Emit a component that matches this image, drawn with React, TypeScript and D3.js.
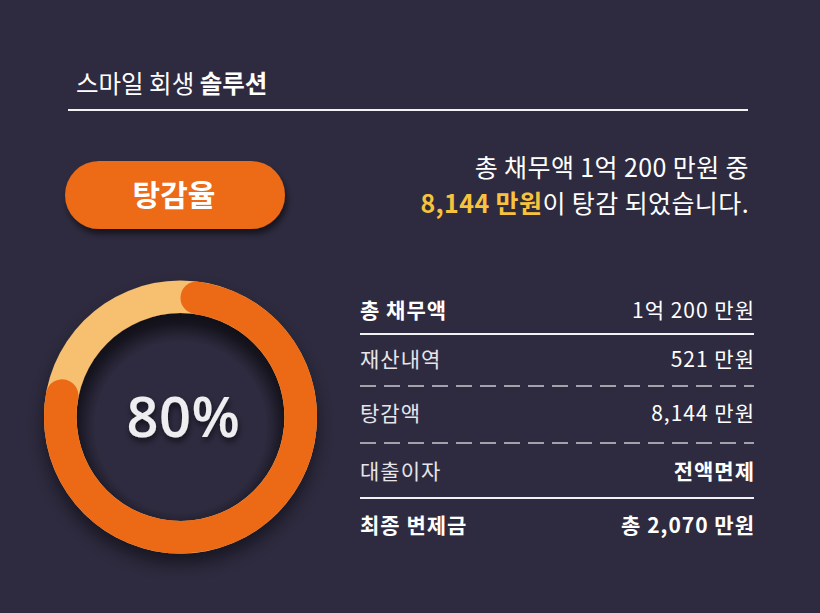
import React from "react";
import * as d3 from "d3";

const W = 820;
const H = 613;

const titleLight = "스마일 회생 ";
const titleBold = "솔루션";
const badgeLabel = "탕감율";
const summaryLine1 = "총 채무액 1억 200 만원 중";
const summaryHighlight = "8,144 만원";
const summaryRest = "이 탕감 되었습니다.";

const reductionRate = [80];
const rowLabels = ["총 채무액", "재산내역", "탕감액", "대출이자", "최종 변제금"];
const rowValues = ["1억 200 만원", "521 만원", "8,144 만원", "전액면제", "총 2,070 만원"];
const rowBold = [true, false, false, false, true];
const valueBold = [false, false, false, true, true];
const separators = ["solid", "dashed", "dashed", "solid"];

const FONT = "'Noto Sans CJK KR', 'Noto Sans', sans-serif";

export default function App() {
  const cx = 180.5;
  const cy = 417;
  const outerR = 136.5;
  const innerR = 104;
  const pct = reductionRate[0];
  const angle = d3.scaleLinear().domain([0, 100]).range([0, 2 * Math.PI]);
  const bgArc = d3.arc<any>().innerRadius(innerR).outerRadius(outerR).startAngle(0).endAngle(2 * Math.PI)({} as any) as string;
  const fgArc = d3
    .arc<any>()
    .innerRadius(innerR)
    .outerRadius(outerR)
    .cornerRadius(16)
    .startAngle(angle(0))
    .endAngle(angle(pct))({} as any) as string;

  const rowBaselines = [318, 367, 421, 479, 533];
  const sepY = [334, 386, 443, 498];
  const tableL = 360;
  const tableR = 754;

  return (
    <svg width={W} height={H} style={{ position: "absolute", left: 0, top: 0, display: "block" }}>
      <defs>
        <filter id="pillShadow" x="-20%" y="-30%" width="140%" height="180%">
          <feDropShadow dx="2" dy="5" stdDeviation="3" floodColor="#000" floodOpacity="0.55" />
        </filter>
        <filter id="ringShadow" x="-30%" y="-30%" width="160%" height="170%">
          <feDropShadow dx="0" dy="10" stdDeviation="9" floodColor="#000" floodOpacity="0.5" />
        </filter>
        <filter id="textShadow" x="-20%" y="-30%" width="140%" height="170%">
          <feDropShadow dx="1" dy="4" stdDeviation="3" floodColor="#000" floodOpacity="0.6" />
        </filter>
        <radialGradient id="innerShade" cx="50%" cy="55%" r="50%">
          <stop offset="82%" stopColor="#000" stopOpacity="0" />
          <stop offset="100%" stopColor="#000" stopOpacity="0.35" />
        </radialGradient>
      </defs>
      <rect x={0} y={0} width={W} height={H} fill="#2e2b40" />

      <text x={76} y={93} fontFamily={FONT} fontSize={24.5} fill="#ffffff">
        <tspan fontWeight={400}>{titleLight}</tspan>
        <tspan fontWeight={700}>{titleBold}</tspan>
      </text>
      <line x1={68} x2={748} y1={110} y2={110} stroke="#f2f2f2" strokeWidth={2} />

      <rect x={65} y={161} width={220} height={68} rx={34} fill="#ed6a14" filter="url(#pillShadow)" />
      <text x={174} y={206} textAnchor="middle" fontFamily={FONT} fontSize={30} fontWeight={700} fill="#ffffff">
        {badgeLabel}
      </text>

      <text x={749} y={177} textAnchor="end" fontFamily={FONT} fontSize={25} letterSpacing={0.4} fill="#ffffff">
        {summaryLine1}
      </text>
      <text x={749} y={213} textAnchor="end" fontFamily={FONT} fontSize={25} letterSpacing={0.4} fill="#ffffff">
        <tspan fill="#f8c33c" fontWeight={700}>{summaryHighlight}</tspan>
        <tspan>{summaryRest}</tspan>
      </text>

      <g transform={`translate(${cx},${cy})`}>
        <circle r={innerR} fill="url(#innerShade)" />
        <g filter="url(#ringShadow)">
          <path d={bgArc} fill="#f7c070" />
          <path d={fgArc} fill="#ec6a14" />
        </g>
        <text
          x={3}
          y={20}
          textAnchor="middle"
          fontFamily="'Open Sans', 'Noto Sans', sans-serif"
          fontSize={56}
          fontWeight={600}
          letterSpacing={0.5}
          fill="#eeeef0"
          filter="url(#textShadow)"
        >
          {`${pct}%`}
        </text>
      </g>

      {rowLabels.map((lab, i) => (
        <g key={lab}>
          <text
            x={tableL}
            y={rowBaselines[i]}
            fontFamily={FONT}
            fontSize={21}
            letterSpacing={1}
            fontWeight={rowBold[i] ? 700 : 400}
            fill={rowBold[i] ? "#ffffff" : "#e6e6ea"}
          >
            {lab}
          </text>
          <text
            x={tableR + 1}
            y={rowBaselines[i]}
            textAnchor="end"
            fontFamily={FONT}
            fontSize={21}
            letterSpacing={1}
            fontWeight={valueBold[i] ? 700 : 400}
            fill="#ffffff"
          >
            {rowValues[i]}
          </text>
        </g>
      ))}
      {separators.map((s, i) => (
        <line
          key={i}
          x1={tableL}
          x2={tableR}
          y1={sepY[i]}
          y2={sepY[i]}
          stroke={s === "solid" ? "#f2f2f2" : "#a3a1ab"}
          strokeWidth={2}
          strokeDasharray={s === "solid" ? undefined : "16 8"}
        />
      ))}
    </svg>
  );
}
